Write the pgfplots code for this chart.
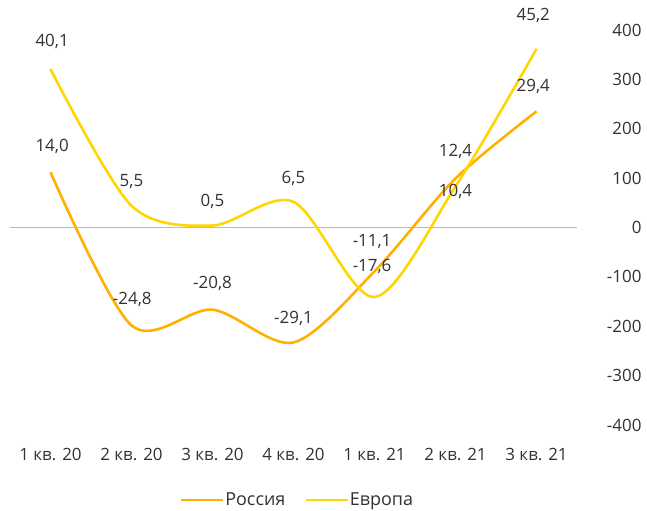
\documentclass[border=0pt]{standalone}
\usepackage{fontspec}
\setmainfont{Open Sans}
\usepackage{pgfplots}
\pgfplotsset{compat=1.18}
\definecolor{rus}{RGB}{255,176,0}
\definecolor{eur}{RGB}{255,214,0}
\definecolor{txt}{RGB}{50,50,50}
\definecolor{zline}{RGB}{185,185,185}
\newcommand{\lblfont}{\fontsize{17}{19}\selectfont}
\newcommand{\legfont}{\fontsize{18}{20}\selectfont}
\begin{document}
\begin{tikzpicture}[x=1bp,y=1bp]
\useasboundingbox (0,0) rectangle (647,511);
\begin{axis}[at={(10bp,86bp)}, anchor=south west, scale only axis,
  width=567bp, height=395bp,
  xmin=-0.5, xmax=6.5, ymin=-400, ymax=400,
  axis x line=bottom, axis y line=right,
  axis line style={draw=none}, major tick length=0pt,
  ytick={-400,-300,...,400},
  xtick={0,...,6},
  xticklabels={1 кв. 20,2 кв. 20,3 кв. 20,4 кв. 20,1 кв. 21,2 кв. 21,3 кв. 21},
  /pgf/number format/assume math mode=true,
  tick label style={font=\lblfont, text=txt},
  yticklabel style={anchor=east, xshift=68bp},
  xticklabel style={yshift=-20bp},
  legend style={at={(0.506,-0.19)}, anchor=center, draw=none, fill=none,
    font=\legfont, text=txt, legend columns=2,
    nodes={inner xsep=1bp},
    /tikz/every even column/.append style={column sep=18bp}},
  legend image code/.code={\draw[#1, line width=2.6pt] (-2bp,0) -- (40bp,0);},
  clip=false,
]
\draw[zline, line width=1.8pt] (axis cs:-0.5,0) -- (axis cs:6.5,0);
\addplot[rus, line width=2.6pt, smooth, tension=0.5] coordinates {
  (0,112) (1,-198.4) (2,-166.4) (3,-232.8) (4,-88.8) (5,99.2) (6,235.2)};
\addlegendentry{Россия}
\addplot[eur, line width=2.6pt, smooth, tension=0.5] coordinates {
  (0,320.8) (1,44) (2,4) (3,52) (4,-140.8) (5,83.2) (6,361.6)};
\addlegendentry{Европа}
\begin{scope}[every node/.style={text=txt, font=\lblfont}]
\node at (axis cs:0.02,376) {40,1};
\node at (axis cs:0.02,164) {14,0};
\node at (axis cs:1,93) {5,5};
\node at (axis cs:2,53) {0,5};
\node at (axis cs:3,99) {6,5};
\node at (axis cs:1.01,-146) {-24,8};
\node at (axis cs:2,-113) {-20,8};
\node at (axis cs:3,-184) {-29,1};
\node at (axis cs:3.97,-28) {-11,1};
\node at (axis cs:3.97,-79) {-17,6};
\node at (axis cs:5,154) {12,4};
\node at (axis cs:5,73) {10,4};
\node at (axis cs:5.96,285) {29,4};
\node at (axis cs:5.96,429) {45,2};
\end{scope}
\end{axis}
\end{tikzpicture}
\end{document}
